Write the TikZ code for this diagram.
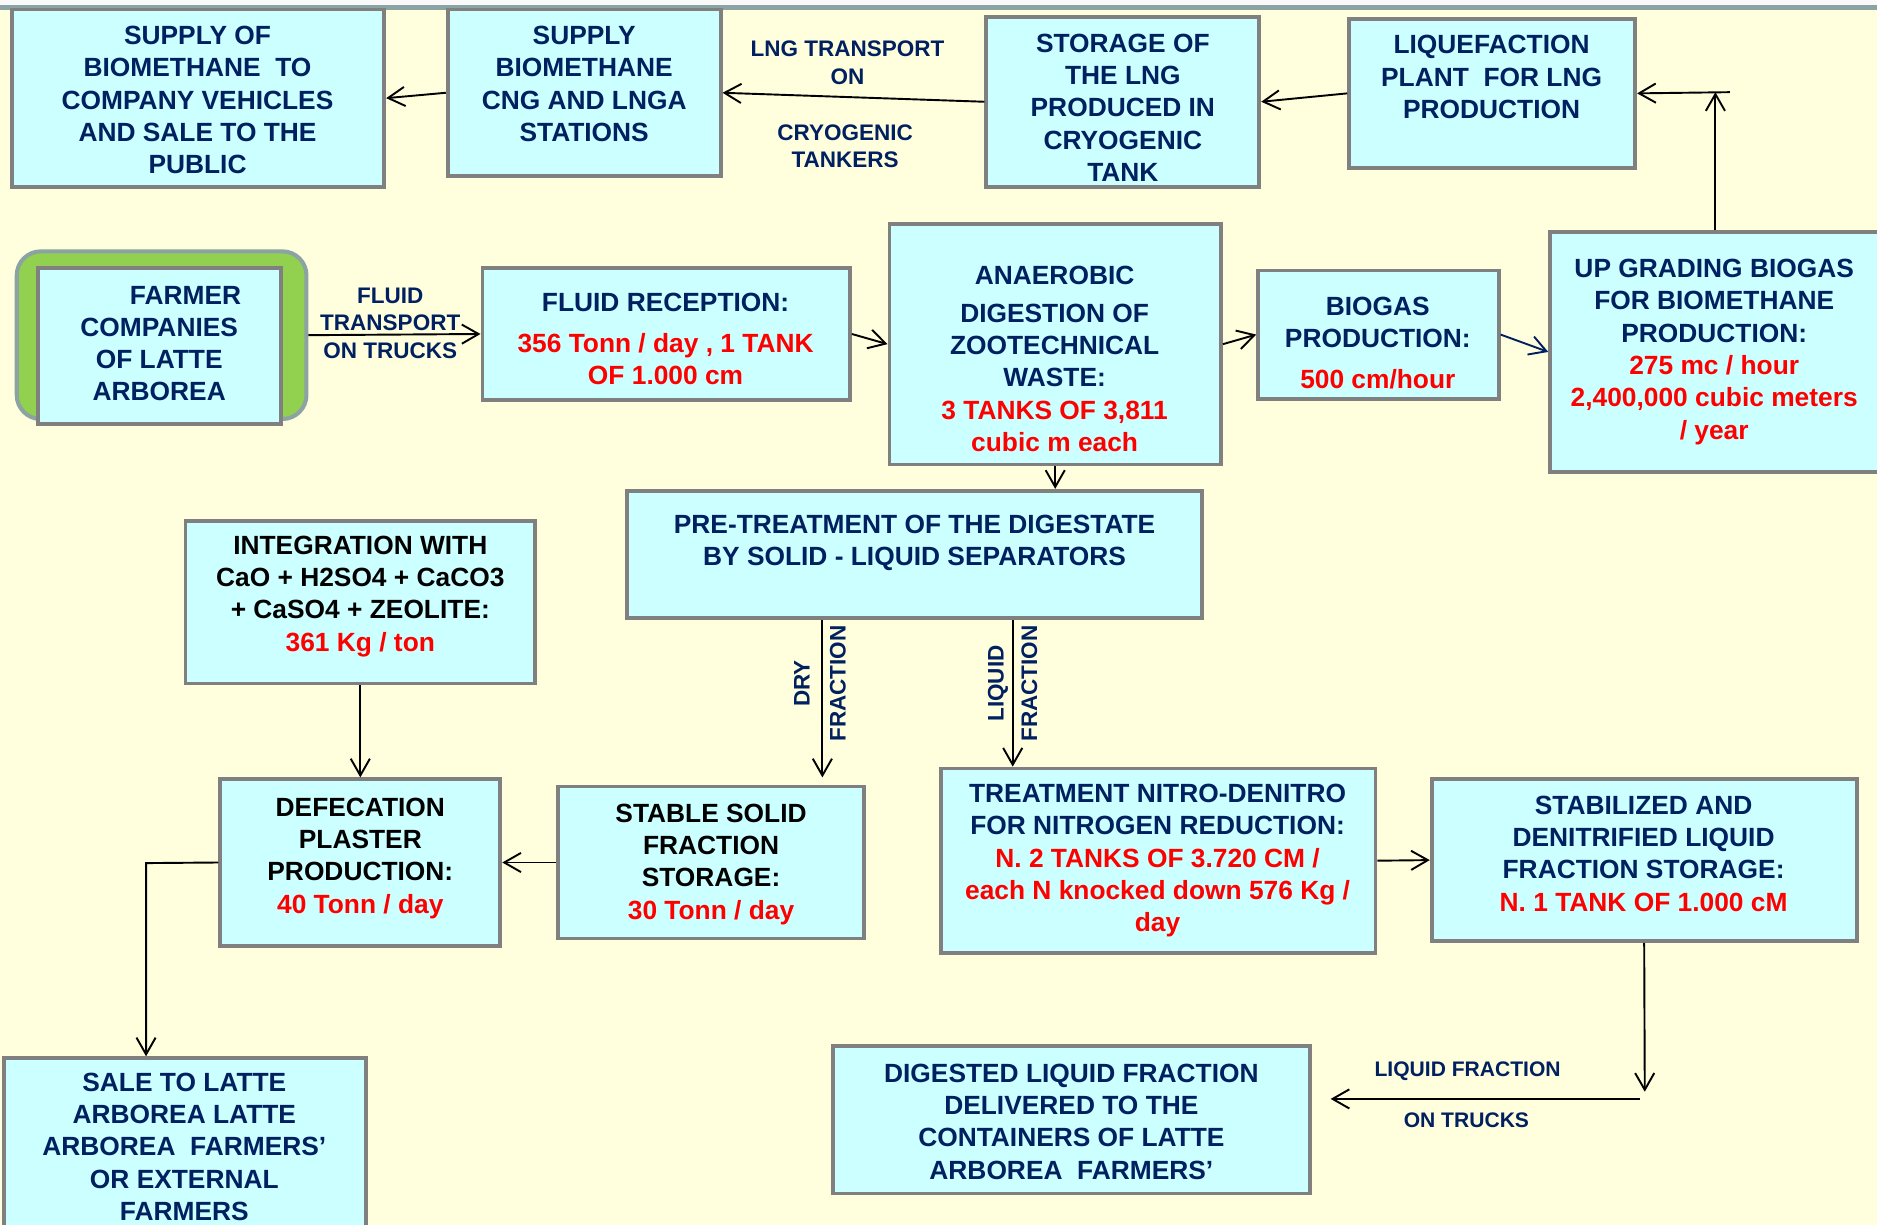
\documentclass[tikz,border=0pt]{standalone}
\usepackage{fontspec}
\setmainfont{Liberation Sans}
\usetikzlibrary{arrows.meta}
\definecolor{bg}{HTML}{FFFFDD}
\definecolor{cyanbox}{HTML}{CCFFFF}
\definecolor{boxgray}{HTML}{808080}
\definecolor{band}{HTML}{8CA3A3}
\definecolor{navy}{HTML}{002060}
\definecolor{leaf}{HTML}{92D050}
\tikzset{
 box/.style={draw=boxgray, line width=1.6pt, fill=cyanbox, inner sep=0pt, rectangle},
 txt/.style={align=center, text=navy, font=\bfseries\fontsize{11}{13.5}\selectfont, inner sep=0pt},
 blk/.style={txt, text=black},
 lbl/.style={align=center, text=navy, font=\bfseries\fontsize{9.4}{11.5}\selectfont, inner sep=0pt},
 arr/.style={-{Straight Barb[length=7pt,width=8pt]}, line width=0.8pt, draw=black},
}
\newcommand\rd{\color{red}}
\begin{document}
\begin{tikzpicture}[x=0.5pt,y=-0.5pt]
\useasboundingbox (0,0) rectangle (1568,1023);
\clip (0,0) rectangle (1568,1023);
\fill[bg] (0,0) rectangle (1568,1023);
\fill[white!95!gray] (0,0) rectangle (1568,4);
\fill[band] (0,4) rectangle (1568,8.5);

% top row
\node[box, minimum width=155.5pt, minimum height=74pt] (b1) at (165.5,82) {};
\node[txt] (t1) at (165,83.5) {SUPPLY OF\\BIOMETHANE~ TO\\COMPANY VEHICLES\\AND SALE TO THE\\PUBLIC};
\node[box, minimum width=114pt, minimum height=69.5pt] (b2) at (488,77.5) {};
\node[txt] (t2) at (488,70) {SUPPLY\\BIOMETHANE\\CNG AND LNGA\\STATIONS};
\node[box, minimum width=114pt, minimum height=71pt] (b3) at (938,85) {};
\node[txt] (t3) at (938,90) {STORAGE OF\\THE LNG\\PRODUCED IN\\CRYOGENIC\\TANK};
\node[box, minimum width=119.5pt, minimum height=62pt] (b4) at (1246.5,78) {};
\node[txt] (t4) at (1246,64.5) {LIQUEFACTION\\PLANT~ FOR LNG\\PRODUCTION};

% middle row
\node[draw=band, line width=1.7pt, fill=leaf, rounded corners=10pt, minimum width=121pt, minimum height=70pt, inner sep=0pt] (farm) at (135,280) {};
\node[box, minimum width=101.5pt, minimum height=65pt] (b5) at (133.5,289) {};
\node[txt] (t5) at (133,287) {\hspace*{22pt}FARMER\\COMPANIES\\OF LATTE\\ARBOREA};
\node[box, minimum width=153.5pt, minimum height=55pt] (b6) at (556.5,279) {};
\node[txt] (t6) at (556,283.5) {FLUID RECEPTION:\\[3.5pt]\rd 356 Tonn / day , 1 TANK\\\rd OF 1.000 cm};
\node[box, minimum width=138.5pt, minimum height=100.5pt] (b7) at (881.5,287.5) {};
\node[txt] (t7) at (881,300) {ANAEROBIC\\[2pt]DIGESTION OF\\ZOOTECHNICAL\\WASTE:\\\rd 3 TANKS OF 3,811\\\rd cubic m each};
\node[box, minimum width=100.5pt, minimum height=53.5pt] (b8) at (1151.5,279.5) {};
\node[txt] (t8) at (1151,286.5) {BIOGAS\\PRODUCTION:\\[3.5pt]\rd 500 cm/hour};
\node[box, minimum width=138pt, minimum height=100pt] (b9) at (1433,294) {};
\node[txt] (t9) at (1432,294) {UP GRADING BIOGAS\\FOR BIOMETHANE\\PRODUCTION:\\\rd 275 mc / hour\\\rd 2,400,000 cubic meters\\\rd / year};

\node[box, minimum width=240pt, minimum height=53pt] (b10) at (764,463) {};
\node[txt] (t10) at (764,453.5) {PRE-TREATMENT OF THE DIGESTATE\\BY SOLID - LIQUID SEPARATORS};
\node[box, minimum width=146pt, minimum height=68pt] (b11) at (301,503) {};
\node[blk] (t11) at (301,498) {INTEGRATION WITH\\CaO + H2SO4 + CaCO3\\+ CaSO4 + ZEOLITE:\\\rd 361 Kg / ton};

% lower row
\node[box, minimum width=117pt, minimum height=69.5pt] (b12) at (301,720.5) {};
\node[blk] (t12) at (301,717) {DEFECATION\\PLASTER\\PRODUCTION:\\\rd 40 Tonn / day};
\node[box, minimum width=128pt, minimum height=63.5pt] (b13) at (594,720.5) {};
\node[blk] (t13) at (594,722) {STABLE SOLID\\FRACTION\\STORAGE:\\\rd 30 Tonn / day};
\node[box, minimum width=181.5pt, minimum height=77pt] (b14) at (967.5,719) {};
\node[txt] (t14) at (967,719) {TREATMENT NITRO-DENITRO\\FOR NITROGEN REDUCTION:\\\rd N. 2 TANKS OF 3.720 CM /\\\rd each N knocked down 576 Kg /\\\rd day};
\node[box, minimum width=177.5pt, minimum height=67.5pt] (b15) at (1373.5,718.5) {};
\node[txt] (t15) at (1373,713) {STABILIZED AND\\DENITRIFIED LIQUID\\FRACTION STORAGE:\\\rd N. 1 TANK OF 1.000 cM};
\node[box, minimum width=199pt, minimum height=61.5pt] (b16) at (895,935.5) {};
\node[txt] (t16) at (895,937) {DIGESTED LIQUID FRACTION\\DELIVERED TO THE\\CONTAINERS OF LATTE\\ARBOREA~ FARMERS’};
\node[box, minimum width=151.5pt, minimum height=78pt] (b17) at (154.5,962) {};
\node[txt] (t17) at (154,958) {SALE TO LATTE\\ARBOREA LATTE\\ARBOREA~ FARMERS’\\OR EXTERNAL\\FARMERS};

% edge labels
\node[lbl] (l1) at (708,52.5) {LNG TRANSPORT\\ON};
\node[lbl] (l2) at (706,122) {CRYOGENIC\\TANKERS};
\node[lbl] (l3) at (326,270) {FLUID\\TRANSPORT\\ON TRUCKS};
\node[lbl, rotate=90, font=\bfseries\fontsize{9.4}{15}\selectfont] (l4) at (685,571) {DRY\\FRACTION};
\node[lbl, rotate=90, font=\bfseries\fontsize{9.4}{14}\selectfont] (l5) at (846,571) {LIQUID\\FRACTION};
\node[lbl, font=\bfseries\fontsize{8.8}{10}\selectfont] (l6) at (1226,895) {LIQUID FRACTION};
\node[lbl, font=\bfseries\fontsize{8.8}{10}\selectfont] (l7) at (1225,936) {ON TRUCKS};

% coordinates
\coordinate (j1) at (1433,77);
\coordinate (j2) at (1445,77);
\coordinate (dx) at (687,0);
\coordinate (lx) at (846,0);
\coordinate (k) at (122,721);
\coordinate (m1) at (1374,912);
\coordinate (m2) at (1370,918);

% connectors
\draw[arr] (b2.west) -- (b1.east);
\draw[arr] (b3.west) -- (b2.east);
\draw[arr] (b4.west) -- (b3.east);
\draw[arr] (b9.north) -- (j1);
\draw[arr] (j2) -- (b4.east);
\draw[arr] (farm.east) -- (b6.west);
\draw[arr] (b6.east) -- (b7.west);
\draw[arr] (b7.east) -- (b8.west);
\draw[arr, draw=navy] (b8.east) -- (b9.west);
\draw[arr] (b7.south) -- (b7.south |- b10.north);
\draw[arr, shorten >=3pt] (b10.south -| dx) -- (b13.north -| dx);
\draw[arr] (b10.south -| lx) -- (b14.north -| lx);
\draw[arr] (b11.south) -- (b12.north);
\draw[arr] (b13.west) -- (b12.east);
\draw[arr] (b12.west) -- (k) -- (b17.north -| k);
\draw[arr] (b14.east) -- (b15.west);
\draw[arr] (b15.south) -- (m1);
\draw[arr, shorten >=8pt] (m2) -- (b16.east |- m2);
\end{tikzpicture}
\end{document}
